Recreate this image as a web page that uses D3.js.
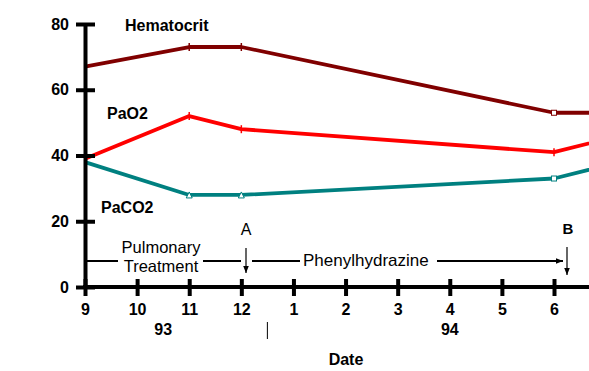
<!DOCTYPE html>
<html><head><meta charset="utf-8">
<script src="https://cdn.jsdelivr.net/npm/d3@7"></script>
<style>
html,body{margin:0;padding:0;background:#fff;}
svg{display:block;font-family:"Liberation Sans",Arial,Helvetica,sans-serif;}
</style></head>
<body><svg id="c" width="589" height="371"></svg>
<script>
const monthLabels = ["9","10","11","12","1","2","3","4","5","6"];
const yearLabels = ["93","94"];
const yTicks = [0,20,40,60,80];
const sampleIdx = [0, 2, 3, 9, 10];
const hematocrit = [67, 73, 73, 53, 53];
const paO2 = [39, 52, 48, 41, 45];
const paCO2 = [38, 28, 28, 33, 37];

const svg = d3.select("#c");
const x = d3.scaleLinear().domain([0, 9]).range([85, 554]);
const y = d3.scaleLinear().domain([0, 80]).range([287, 24]);

svg.append("defs").append("marker")
  .attr("id","ah").attr("viewBox","0 0 10 10").attr("refX",10).attr("refY",5)
  .attr("markerWidth",7).attr("markerHeight",7).attr("markerUnits","userSpaceOnUse")
  .attr("orient","auto")
  .append("path").attr("d","M0,1L10,5L0,9Z").attr("fill","#000");

// series lines
const series = [
  {name:"Hematocrit", vals:hematocrit, color:"#800000", mk:["plus","plus","plus","square",null]},
  {name:"PaO2", vals:paO2, color:"#ff0000", mk:[null,"plus","plus","plus",null]},
  {name:"PaCO2", vals:paCO2, color:"#008080", mk:[null,"tri","tri","square",null]}
];
const line = d3.line().x((d,i)=>x(sampleIdx[i])).y(d=>y(d));
series.forEach(s=>{
  svg.append("path").datum(s.vals).attr("d",line)
    .attr("fill","none").attr("stroke",s.color).attr("stroke-width",3.8).attr("stroke-linejoin","round");
  s.vals.forEach((v,i)=>{
    const m = s.mk[i]; if(!m) return;
    const cx = x(sampleIdx[i]), cy = y(v);
    if(m==="square"){
      svg.append("rect").attr("x",cx-2.5).attr("y",cy-2.5).attr("width",5).attr("height",5)
        .attr("fill","#fff").attr("stroke",s.color).attr("stroke-width",1);
    } else if(m==="tri"){
      svg.append("path").attr("d",`M${cx-3},${cy+3}L${cx},${cy-3}L${cx+3},${cy+3}Z`)
        .attr("fill","#fff").attr("stroke",s.color).attr("stroke-width",1);
    } else {
      svg.append("path").attr("d",`M${cx},${cy-4}V${cy+4}`)
        .attr("stroke",s.color).attr("stroke-width",1.5);
    }
  });
});

// y axis
const gy = svg.append("g").attr("transform","translate(85,0)")
  .call(d3.axisLeft(y).tickValues(yTicks).tickSize(0).tickSizeOuter(0).tickPadding(16));
gy.select(".domain").attr("stroke","#000").attr("stroke-width",4);
gy.selectAll(".tick line").attr("x1",-9).attr("x2",10).attr("stroke","#000").attr("stroke-width",4);
gy.selectAll(".tick text").attr("font-size",16).attr("font-weight","bold")
  .attr("font-family","'Liberation Sans',Arial,sans-serif").attr("fill","#000");

// x axis
svg.append("line").attr("x1",83).attr("x2",589).attr("y1",287).attr("y2",287)
  .attr("stroke","#000").attr("stroke-width",4);
const gx = svg.append("g").attr("transform","translate(0,287)")
  .call(d3.axisBottom(x).tickValues(d3.range(monthLabels.length)).tickFormat(i=>monthLabels[i])
    .tickSize(0).tickSizeOuter(0));
gx.select(".domain").remove();
gx.selectAll(".tick line").attr("y1",-8).attr("y2",9).attr("stroke","#000").attr("stroke-width",4);
gx.selectAll(".tick text").attr("y",28).attr("dy",0).attr("font-size",16).attr("font-weight","bold")
  .attr("font-family","'Liberation Sans',Arial,sans-serif").attr("fill","#000");

// year labels
const yearPos = [1.5, 7];
yearLabels.forEach((t,i)=>{
  svg.append("text").attr("x",x(yearPos[i])).attr("y",335).attr("text-anchor","middle")
    .attr("font-size",16).attr("font-weight","bold").text(t);
});
svg.append("line").attr("x1",x(3.5)).attr("x2",x(3.5)).attr("y1",322).attr("y2",339)
  .attr("stroke","#000").attr("stroke-width",1);
svg.append("text").attr("x",346).attr("y",365).attr("text-anchor","middle")
  .attr("font-size",16).attr("font-weight","bold").text("Date");

// series labels
svg.append("text").attr("x",125).attr("y",31).attr("font-size",16).attr("font-weight","bold").text("Hematocrit");
svg.append("text").attr("x",107).attr("y",119).attr("font-size",16).attr("font-weight","bold").text("PaO2");
svg.append("text").attr("x",101).attr("y",213).attr("font-size",16).attr("font-weight","bold").text("PaCO2");

// treatment annotations
const ay = 261;
const seg = (x1,x2,mk)=>{ const l = svg.append("line").attr("x1",x1).attr("x2",x2).attr("y1",ay).attr("y2",ay)
  .attr("stroke","#000").attr("stroke-width",2); if(mk) l.attr("marker-end","url(#ah)"); };
seg(87,118); seg(203,241); seg(252,300); seg(437,563,true);
svg.append("text").attr("x",161).attr("y",253).attr("text-anchor","middle").attr("font-size",16.5).text("Pulmonary");
svg.append("text").attr("x",161).attr("y",272).attr("text-anchor","middle").attr("font-size",16.5).text("Treatment");
svg.append("text").attr("x",303).attr("y",266).attr("font-size",17).text("Phenylhydrazine");
// A and B arrows
const varrow = (xx,y1,y2)=>svg.append("line").attr("x1",xx).attr("x2",xx).attr("y1",y1).attr("y2",y2)
  .attr("stroke","#000").attr("stroke-width",1.2).attr("marker-end","url(#ah)");
varrow(246,248,273); varrow(567,247,275);
svg.append("text").attr("x",246).attr("y",235).attr("text-anchor","middle").attr("font-size",16).text("A");
svg.append("text").attr("x",568).attr("y",234).attr("text-anchor","middle").attr("font-size",15).attr("font-weight","bold").text("B");
</script></body></html>
